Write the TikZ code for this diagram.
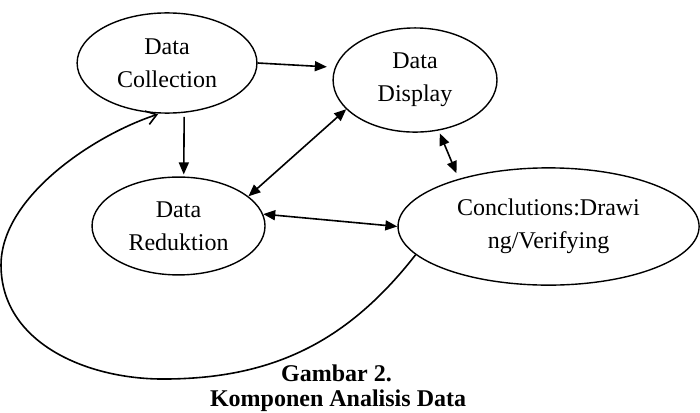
\documentclass[tikz,border=0pt]{standalone}
\usepackage{fontspec}
\setmainfont{Liberation Serif}
\usepackage{tikz}
\usetikzlibrary{arrows.meta,shapes.geometric}
\tikzset{
  stagebox/.style  = {ellipse, draw, line width=0.7pt, inner sep=0pt, align=center,
                       font=\fontsize{12}{16.5}\selectfont},
  flow/.style      = {-{Triangle[length=6pt,width=5pt]}, line width=0.8pt},
  flowboth/.style  = {{Triangle[length=6pt,width=5pt]}-{Triangle[length=6pt,width=5pt]}, line width=0.8pt},
  loopback/.style  = {-{Straight Barb[length=5pt,width=7pt]}, line width=0.8pt},
  captext/.style   = {font=\bfseries\fontsize{12}{14}\selectfont, anchor=base, inner sep=0pt},
}
\begin{document}
\begin{tikzpicture}
\useasboundingbox (0,0) rectangle (12.30,7.24);
% the four components
\node[stagebox, minimum width=3.16cm, minimum height=1.76cm] (collect) at (2.935,6.133) {Data\\Collection};
\node[stagebox, minimum width=2.88cm, minimum height=1.83cm] (display) at (7.293,5.834) {Data\\Display};
\node[stagebox, minimum width=3.04cm, minimum height=1.72cm] (reduce)  at (3.137,3.269) {Data\\Reduktion};
\node[stagebox, minimum width=5.29cm, minimum height=2.06cm] (verify)  at (9.639,3.260) {Conclutions:Drawi\\ng/Verifying};

% arrows between them
\draw[flow, shorten >=4pt] (collect.east) -- (display.171);
\draw[flow, shorten <=2pt, shorten >=1pt] (collect.-71) -- (reduce.84);
\draw[flowboth] (reduce.23) -- (display.203);
\draw[flowboth, shorten <=1.5pt, shorten >=3pt] (display.-65) -- (verify.152);
\draw[flowboth] (reduce.8) -- (verify.west);

% loop back to data collection
\coordinate (loopbot)  at (2.864,0.580);
\coordinate (loopleft) at (0.018,2.583);
\draw[loopback, shorten >=1pt] (verify.-168) to[out=-128,in=0] (loopbot)
  to[out=180,in=-90] (loopleft) to[out=90,in=198,looseness=0.8] (collect.-98);

% caption
\node[captext] (capnum)   at (5.913,0.54) {Gambar 2.};
\node[captext] (captitle) at (5.940,0.10) {Komponen Analisis Data};
\end{tikzpicture}
\end{document}
